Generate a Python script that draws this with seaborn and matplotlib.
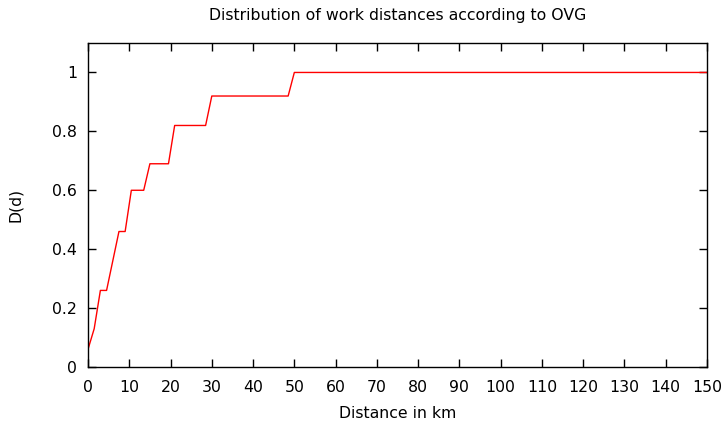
import matplotlib
matplotlib.use("Agg")
import matplotlib.pyplot as plt
import seaborn as sns
import pandas as pd

distance_km = [0, 1.5, 3, 4.5, 6, 7.5, 9, 10.5, 13.5, 15, 19.5, 21, 28.5, 30, 48.5, 50, 150]
cum_share = [0.06, 0.13, 0.26, 0.26, 0.36, 0.46, 0.46, 0.60, 0.60, 0.69, 0.69, 0.82, 0.82, 0.92, 0.92, 1.0, 1.0]

x_ticks = list(range(0, 151, 10))
y_ticks = [0, 0.2, 0.4, 0.6, 0.8, 1]
y_tick_labels = ["0", "0.2", "0.4", "0.6", "0.8", "1"]

df = pd.DataFrame({"d": distance_km, "D": cum_share})

sns.set_style("white")
plt.rcParams['font.family'] = ['DejaVu Sans']
FS = 11.3

fig = plt.figure(figsize=(7.27, 4.25), dpi=100)
ax = fig.add_axes([88/727, 1-367/425, (707-88)/727, (367-43)/425])

sns.lineplot(data=df, x="d", y="D", ax=ax, color="#ff0000", lw=1.0, estimator=None, sort=False)

ax.set_xlim(0, 150)
ax.set_ylim(0, 1.1)
ax.set_xticks(x_ticks)
ax.set_yticks(y_ticks)
ax.set_yticklabels(y_tick_labels)
ax.tick_params(direction="in", length=6, width=1, top=True, right=True,
               bottom=True, left=True, labelsize=FS, colors="black")
ax.tick_params(axis="x", pad=9)
ax.tick_params(axis="y", pad=8)
for s in ax.spines.values():
    s.set_visible(True)
    s.set_color("black")
    s.set_linewidth(1.0)

ax.set_xlabel("Distance in km", fontsize=FS, color="black")
ax.set_ylabel("D(d)", fontsize=FS, color="black")
ax.xaxis.set_label_coords(0.5, -(406 - 367) / 324)
ax.yaxis.set_label_coords((23 - 88) / 619, 0.5)
ax.set_title("Distribution of work distances according to OVG", fontsize=FS, pad=16.3, color="black")

fig.savefig("out.png", dpi=100)
